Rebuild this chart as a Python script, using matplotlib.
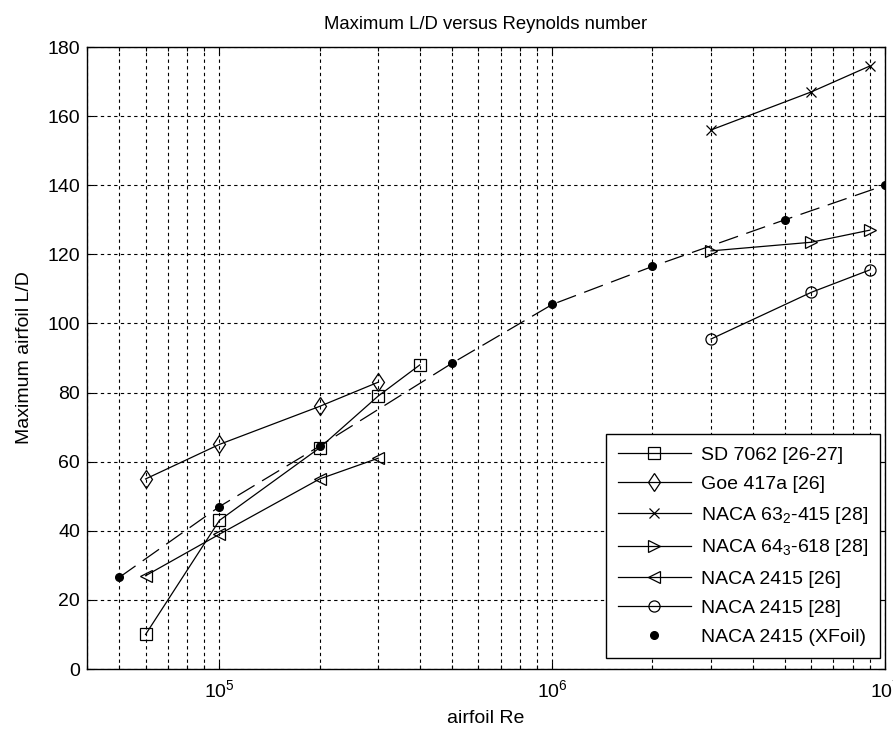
import matplotlib
matplotlib.use("Agg")
import matplotlib.pyplot as plt
from matplotlib.ticker import LogLocator, FixedLocator, NullFormatter

plt.rcParams['font.family'] = ['Liberation Sans', 'DejaVu Sans']
plt.rcParams['mathtext.fontset'] = 'custom'
plt.rcParams['mathtext.rm'] = 'Liberation Sans'
plt.rcParams['mathtext.it'] = 'Liberation Sans'

# ---- data ----
sd7062_re = [6e4, 1e5, 2e5, 3e5, 4e5]
sd7062_ld = [10, 43, 64, 79, 88]

goe417a_re = [6e4, 1e5, 2e5, 3e5]
goe417a_ld = [55, 65, 76, 83]

naca632_re = [3e6, 6e6, 9e6]
naca632_ld = [156, 167, 174.5]

naca643_re = [3e6, 6e6, 9e6]
naca643_ld = [121, 123.5, 127]

naca2415_26_re = [6e4, 1e5, 2e5, 3e5]
naca2415_26_ld = [27, 39, 55, 61]

naca2415_28_re = [3e6, 6e6, 9e6]
naca2415_28_ld = [95.5, 109, 115.5]

xfoil_re = [5e4, 1e5, 2e5, 5e5, 1e6, 2e6, 5e6, 1e7]
xfoil_ld = [26.5, 47, 64.5, 88.5, 105.5, 116.5, 130, 140]

labels = ['SD 7062 [26-27]', 'Goe 417a [26]', 'NACA 63$_2$-415 [28]',
          'NACA 64$_3$-618 [28]', 'NACA 2415 [26]', 'NACA 2415 [28]',
          'NACA 2415 (XFoil)']

fig = plt.figure(figsize=(8.93, 7.29), dpi=100)
ax = fig.add_axes([0.0974, 0.0823, 0.8937, 0.8532])

lw = 0.9
ms = 8
ax.plot(xfoil_re, xfoil_ld, color='black', lw=lw, ls=(0, (16, 7)), zorder=2)
ax.plot(sd7062_re, sd7062_ld, color='black', lw=lw, marker='s', ms=ms,
        mfc='none', mec='black', mew=0.9, label=labels[0], zorder=3)
ax.plot(goe417a_re, goe417a_ld, color='black', lw=lw, marker='d', ms=ms + 1.5,
        mfc='none', mec='black', mew=0.9, label=labels[1], zorder=3)
ax.plot(naca632_re, naca632_ld, color='black', lw=lw, marker='x', ms=ms - 1,
        mec='black', mew=0.9, label=labels[2], zorder=3)
ax.plot(naca643_re, naca643_ld, color='black', lw=lw, marker='>', ms=ms + 1,
        mfc='none', mec='black', mew=0.9, label=labels[3], zorder=3)
ax.plot(naca2415_26_re, naca2415_26_ld, color='black', lw=lw, marker='<', ms=ms + 1,
        mfc='none', mec='black', mew=0.9, label=labels[4], zorder=3)
ax.plot(naca2415_28_re, naca2415_28_ld, color='black', lw=lw, marker='o', ms=ms,
        mfc='none', mec='black', mew=0.9, label=labels[5], zorder=3)
ax.plot(xfoil_re, xfoil_ld, ls='none', marker='o', ms=5.5, color='black',
        label=labels[6], zorder=4)

ax.set_xscale('log')
ax.set_xlim(4e4, 1e7)
ax.set_ylim(0, 180)
ax.yaxis.set_major_locator(FixedLocator(list(range(0, 181, 20))))
ax.xaxis.set_major_locator(LogLocator(base=10, numticks=10))
ax.xaxis.set_minor_locator(LogLocator(base=10, subs=range(2, 10), numticks=20))
ax.xaxis.set_minor_formatter(NullFormatter())

ax.grid(True, which='major', color='black', ls=(0, (3, 3)), lw=0.8)
ax.grid(True, which='minor', axis='x', color='black', ls=(0, (3, 3)), lw=0.8)
ax.set_axisbelow(True)

ax.tick_params(which='both', direction='in', top=True, right=True,
               labelsize=14, length=5, width=0.8)
ax.tick_params(which='minor', length=3)
ax.tick_params(axis='x', pad=7)
ax.tick_params(axis='y', pad=5)
for s in ax.spines.values():
    s.set_linewidth(1.0)

ax.set_title('Maximum L/D versus Reynolds number', fontsize=13.3, pad=13)
ax.set_xlabel('airfoil Re', fontsize=14, labelpad=7)
ax.set_ylabel('Maximum airfoil L/D', fontsize=14, labelpad=10)

leg = ax.legend(loc='lower right', bbox_to_anchor=(0.994, 0.018),
                borderaxespad=0, fontsize=14, handlelength=3.75,
                labelspacing=0.6, fancybox=False, framealpha=1,
                edgecolor='black', borderpad=0.6, handletextpad=0.55)
leg.get_frame().set_linewidth(1.0)

fig.savefig('out.png', dpi=100)
